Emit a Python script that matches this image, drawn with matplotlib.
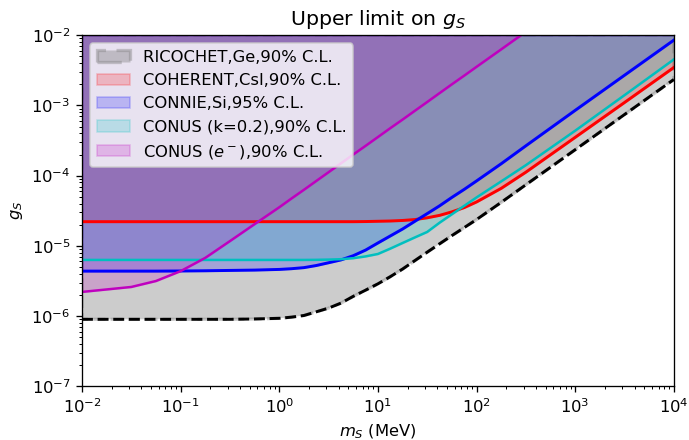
# -*- coding: utf-8 -*-
"""Upper limit on the scalar coupling g_S versus mediator mass."""
import matplotlib
matplotlib.use("Agg")
import matplotlib.pyplot as plt
import numpy as np

# mediator mass grid (MeV)
m_s = [1e-2, 3.16e-2, 5.62e-2, 1e-1, 1.78e-1, 3.16e-1, 5.62e-1, 1.0, 1.33, 1.78,
       2.37, 3.16, 4.22, 5.62, 7.5, 10.0, 13.3, 17.8, 23.7, 31.6,
       42.2, 56.2, 75.0, 100.0, 178.0, 316.0, 1000.0, 3160.0, 10000.0]

# upper limits on g_S
g_ricochet = [9.0e-7, 9.0e-7, 9.0e-7, 9.0e-7, 9.0e-7, 9.0e-7, 9.1e-7, 9.3e-7, 9.66e-7, 1.02e-6,
              1.15e-6, 1.30e-6, 1.53e-6, 1.91e-6, 2.34e-6, 2.88e-6, 3.63e-6, 4.68e-6, 6.17e-6, 8.13e-6,
              1.07e-5, 1.40e-5, 1.82e-5, 2.37e-5, 4.17e-5, 7.41e-5, 2.34e-4, 7.41e-4, 2.34e-3]
g_coherent = [2.21e-5, 2.21e-5, 2.21e-5, 2.21e-5, 2.21e-5, 2.21e-5, 2.21e-5, 2.21e-5, 2.21e-5, 2.21e-5,
              2.21e-5, 2.21e-5, 2.21e-5, 2.21e-5, 2.22e-5, 2.24e-5, 2.26e-5, 2.30e-5, 2.37e-5, 2.51e-5,
              2.72e-5, 3.05e-5, 3.51e-5, 4.22e-5, 6.6e-5, 1.12e-4, 3.51e-4, 1.10e-3, 3.47e-3]
g_connie = [4.37e-6, 4.37e-6, 4.37e-6, 4.39e-6, 4.42e-6, 4.47e-6, 4.52e-6, 4.62e-6, 4.73e-6, 4.90e-6,
            5.25e-6, 5.75e-6, 6.31e-6, 7.24e-6, 8.71e-6, 1.10e-5, 1.38e-5, 1.74e-5, 2.24e-5, 2.88e-5,
            3.72e-5, 4.9e-5, 6.38e-5, 8.41e-5, 1.48e-4, 2.66e-4, 8.51e-4, 2.69e-3, 8.51e-3]
g_conus_k = [6.31e-6, 6.31e-6, 6.31e-6, 6.31e-6, 6.31e-6, 6.31e-6, 6.31e-6, 6.31e-6, 6.31e-6, 6.31e-6,
             6.33e-6, 6.38e-6, 6.46e-6, 6.68e-6, 7.08e-6, 7.67e-6, 9.12e-6, 1.10e-5, 1.32e-5, 1.58e-5,
             2.14e-5, 2.82e-5, 3.72e-5, 4.9e-5, 8.3e-5, 1.41e-4, 4.37e-4, 1.40e-3, 4.52e-3]
g_conus_e = [2.21e-6, 2.60e-6, 3.16e-6, 4.37e-6, 6.76e-6, 1.17e-5, 2.04e-5, 3.55e-5, 4.73e-5, 6.3e-5,
             8.4e-5, 1.12e-4, 1.50e-4, 2.0e-4, 2.66e-4, 3.55e-4, 4.73e-4, 6.3e-4, 8.4e-4, 1.12e-3,
             1.50e-3, 2.0e-3, 2.66e-3, 3.55e-3, 6.3e-3, 1.12e-2, 3.55e-2, 0.112, 0.355]

labels = ["RICOCHET,Ge,90% C.L.", "COHERENT,CsI,90% C.L.", "CONNIE,Si,95% C.L.",
          "CONUS (k=0.2),90% C.L.", r"CONUS ($e^-$),90% C.L."]

G_TOP = 1e-2
DPI = 118


def plot_limits() -> None:
    fig = plt.figure(figsize=(689 / DPI, 440 / DPI), dpi=DPI)
    ax = fig.add_axes([0.119, 0.122, 0.859, 0.798])
    x = np.array(m_s)

    ax.fill_between(x, g_ricochet, G_TOP, color="gray", alpha=0.4, linestyle="--", linewidth=2, label=labels[0])
    ax.fill_between(x, g_coherent, G_TOP, color="red", alpha=0.2, label=labels[1])
    ax.fill_between(x, g_connie, G_TOP, color="blue", alpha=0.2, label=labels[2])
    ax.fill_between(x, g_conus_k, G_TOP, color="c", alpha=0.2, label=labels[3])
    ax.fill_between(x, g_conus_e, G_TOP, color="m", alpha=0.2, label=labels[4])

    ax.plot(x, g_ricochet, color="black", linestyle="--", linewidth=1.8)
    ax.plot(x, g_coherent, color="red", linewidth=1.8)
    ax.plot(x, g_connie, color="blue", linewidth=1.8)
    ax.plot(x, g_conus_k, color="c", linewidth=1.5)
    ax.plot(x, g_conus_e, color="m", linewidth=1.5)

    ax.set_xscale("log")
    ax.set_yscale("log")
    ax.set_xlim(1e-2, 1e4)
    ax.set_ylim(1e-7, 1e-2)
    ax.set_xlabel(r"$m_S$ (MeV)")
    ax.set_ylabel(r"$g_S$")
    ax.set_title(r"Upper limit on $g_S$", fontsize=12.5)
    ax.legend(loc="upper left")
    fig.savefig("out.png", dpi=DPI)
    plt.close(fig)


def main() -> None:
    plot_limits()


if __name__ == "__main__":
    main()
